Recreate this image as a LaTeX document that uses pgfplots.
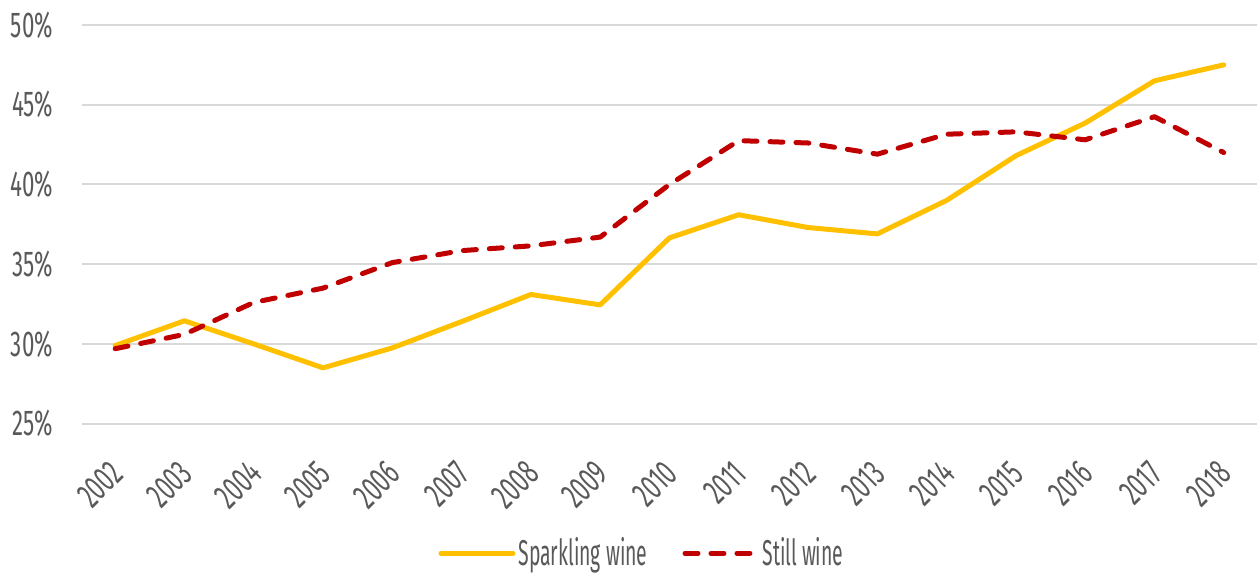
\documentclass[border=0pt]{standalone}
\usepackage{fontspec}
\setmainfont{Fira Sans}[FakeStretch=0.62]
\newfontfamily\legendfont{Fira Sans}[FakeStretch=0.54]
\usepackage{pgfplots}
\usepackage{pgfplotstable}
\pgfplotsset{compat=1.18}
\definecolor{sparkling}{HTML}{FFC000}
\definecolor{still}{HTML}{C00000}
\definecolor{gridgray}{HTML}{D9D9D9}
\definecolor{textgray}{HTML}{595959}

\pgfplotstableread{
year sparkling still
2002 29.9  29.7
2003 31.45 30.6
2004 30.0  32.6
2005 28.5  33.5
2006 29.75 35.1
2007 31.4  35.85
2008 33.1  36.15
2009 32.45 36.7
2010 36.65 40.0
2011 38.1  42.75
2012 37.3  42.6
2013 36.9  41.9
2014 39.0  43.15
2015 41.8  43.3
2016 43.85 42.8
2017 46.5  44.25
2018 47.5  42.0
}\wine

\begin{document}
\begin{tikzpicture}
\begin{axis}[
    name=ax,
    scale only axis,
    width=588pt,
    height=199.5pt,
    xmin=2001.52, xmax=2018.48,
    ymin=25, ymax=50,
    xtick={2002,...,2018},
    ytick={25,30,...,50},
    xticklabel style={anchor=north east, xshift=-3.7pt, yshift=-12.7pt, rotate=45, font=\fontsize{18}{20}\selectfont, text=textgray},
    yticklabel style={font=\fontsize{18}{20}\selectfont, text=textgray, xshift=-11pt},
    /pgf/number format/assume math mode=true,
    xticklabel={\pgfmathprintnumber[1000 sep={}]{\tick}},
    yticklabel={\pgfmathprintnumber{\tick}\%},
    axis line style={draw=none},
    major tick length=0pt,
    ymajorgrids,
    grid style={gridgray, line width=1pt},
    clip=false,
    legend columns=2,
    legend style={at={(0.477,-0.325)}, anchor=center, draw=none, fill=none, inner sep=0pt,
        nodes={inner sep=1.5pt},
        font=\legendfont\fontsize{18}{20}\selectfont, text=textgray,
        /tikz/every even column/.append style={column sep=16pt}},
    legend image code/.code={\draw[#1] (0pt,0pt) -- (36pt,0pt);},
]
\addplot[sparkling, line width=2.5pt, line join=round, line cap=round] table[x=year, y=sparkling] {\wine};
\addlegendentry{Sparkling wine}
\addplot[still, line width=2.5pt, line join=round, line cap=round, dash pattern=on 6.5pt off 6.5pt] table[x=year, y=still] {\wine};
\addlegendentry{Still wine}
\end{axis}
\path ([shift={(-41pt,-75pt)}]ax.south west) rectangle ([shift={(0pt,12.5pt)}]ax.north east);
\end{tikzpicture}
\end{document}
